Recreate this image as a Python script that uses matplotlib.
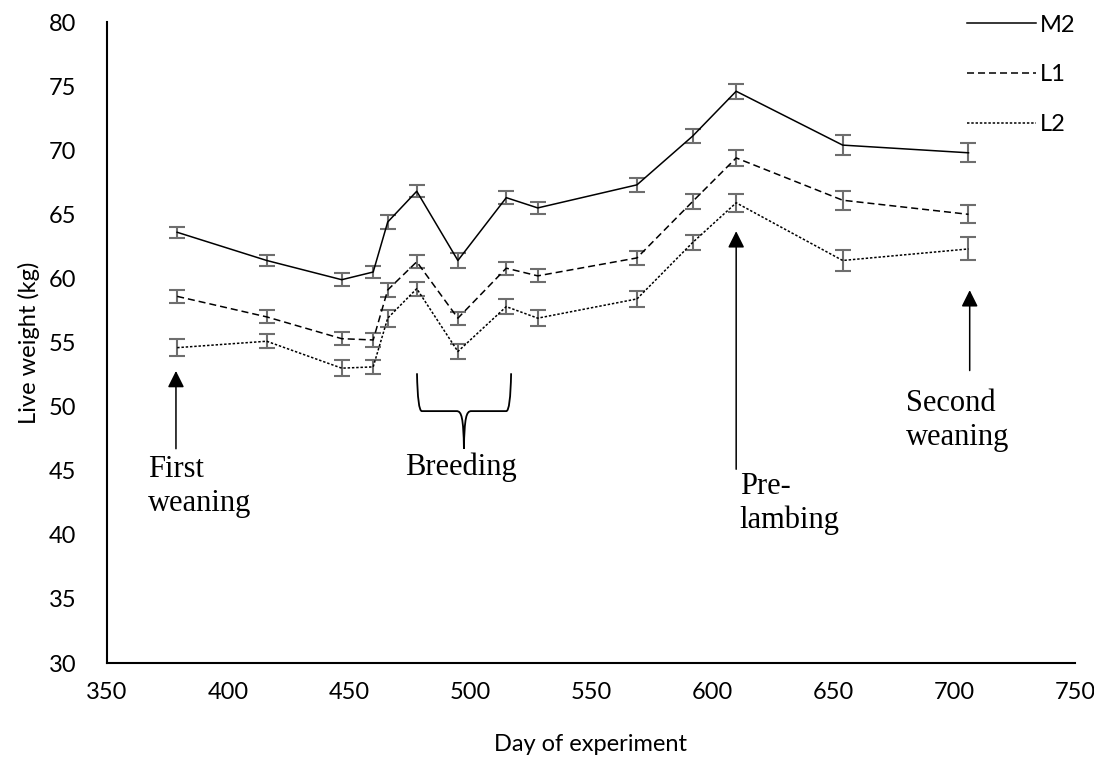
import matplotlib
matplotlib.use("Agg")
import matplotlib.pyplot as plt
from matplotlib.path import Path
from matplotlib.patches import PathPatch

# live weight by day of experiment, three groups
days = [379, 416, 447, 460, 466, 478, 495, 515, 528, 569, 592, 610, 654, 706]
m2 = [63.6, 61.4, 59.9, 60.5, 64.4, 66.8, 61.4, 66.3, 65.5, 67.3, 71.1, 74.6, 70.4, 69.8]
l1 = [58.6, 57.0, 55.3, 55.2, 59.1, 61.3, 56.9, 60.8, 60.2, 61.6, 66.0, 69.4, 66.1, 65.0]
l2 = [54.6, 55.1, 53.0, 53.1, 56.9, 59.2, 54.3, 57.8, 56.9, 58.4, 62.8, 65.9, 61.4, 62.3]
m2_err = [0.45, 0.4, 0.5, 0.5, 0.52, 0.47, 0.55, 0.52, 0.48, 0.55, 0.55, 0.6, 0.75, 0.75]
l1_err = [0.5, 0.5, 0.5, 0.55, 0.55, 0.5, 0.5, 0.5, 0.5, 0.55, 0.55, 0.6, 0.75, 0.7]
l2_err = [0.65, 0.55, 0.6, 0.55, 0.65, 0.55, 0.6, 0.6, 0.6, 0.65, 0.6, 0.7, 0.8, 0.9]

series = [("M2", m2, m2_err, "-"),
          ("L1", l1, l1_err, (0, (4.6, 2.6))),
          ("L2", l2, l2_err, (0, (1.6, 1.2)))]

sans = ["Lato", "DejaVu Sans"]
serif = ["Liberation Serif", "DejaVu Serif"]

fig = plt.figure(figsize=(10.94, 7.65), dpi=100)
ax = fig.add_axes([0.0978, 0.1333, 0.8848, 0.8379])

handles = []
for name, vals, err, ls in series:
    ax.errorbar(days, vals, yerr=err, fmt="none", ecolor="#6e6e6e",
                elinewidth=1.5, capsize=5.5, capthick=1.5, zorder=2)
    h, = ax.plot(days, vals, color="black", linewidth=1.1, linestyle=ls,
                 label=name, zorder=3)
    handles.append(h)

ax.set_xlim(350, 750)
ax.set_ylim(30, 80)
ax.set_xticks(range(350, 751, 50))
ax.set_yticks(range(30, 81, 5))
ax.tick_params(length=0, labelsize=17)
ax.tick_params(axis="x", pad=14)
ax.tick_params(axis="y", pad=22)
for lab in ax.get_xticklabels() + ax.get_yticklabels():
    lab.set_family(sans)
for s in ["top", "right"]:
    ax.spines[s].set_visible(False)
for s in ["left", "bottom"]:
    ax.spines[s].set_linewidth(1.5)
ax.set_xlabel("Day of experiment", fontsize=17, family=sans, labelpad=22)
ax.set_ylabel("Live weight (kg)", fontsize=17, family=sans, labelpad=6)

fig.legend(handles=handles, loc="upper left", bbox_to_anchor=(0.884, 0.981),
           frameon=False, prop={"family": sans, "size": 17},
           handlelength=2.9, handletextpad=0.2, labelspacing=1.22,
           borderpad=0, borderaxespad=0)

# event arrows
arrow = dict(arrowstyle="-|>", color="black", lw=1.1, mutation_scale=25)
ax.annotate("", xy=(378.5, 53.0), xytext=(378.5, 46.5), arrowprops=arrow)
ax.annotate("", xy=(610, 63.9), xytext=(610, 44.9), arrowprops=arrow)
ax.annotate("", xy=(706.5, 59.3), xytext=(706.5, 52.6), arrowprops=arrow)

txt = dict(fontsize=22, family=serif, va="top", ha="left", linespacing=1.22)
ax.text(367, 46.2, "First\nweaning", **txt)
ax.text(473, 46.4, "Breeding", **txt)
ax.text(611.5, 44.9, "Pre-\nlambing", **txt)
ax.text(680, 51.4, "Second\nweaning", **txt)

# curly brace over the breeding period
bl, br, bm = 478.1, 517.0, 497.5
btop, bmid, bbot = 52.6, 49.65, 46.7
verts = [(bl, btop), (bl + 0.3, bmid), (bl + 2.0, bmid),
         (bm - 3.0, bmid),
         (bm - 1.0, bmid), (bm - 0.2, bmid - 0.5), (bm, bbot),
         (bm + 0.2, bmid - 0.5), (bm + 1.0, bmid), (bm + 3.0, bmid),
         (br - 2.0, bmid),
         (br - 0.3, bmid), (br, btop)]
codes = [Path.MOVETO, Path.CURVE3, Path.CURVE3,
         Path.LINETO,
         Path.CURVE4, Path.CURVE4, Path.CURVE4,
         Path.CURVE4, Path.CURVE4, Path.CURVE4,
         Path.LINETO,
         Path.CURVE3, Path.CURVE3]
ax.add_patch(PathPatch(Path(verts, codes), fill=False, lw=1.3, color="black"))

fig.savefig("out.png", dpi=100)
